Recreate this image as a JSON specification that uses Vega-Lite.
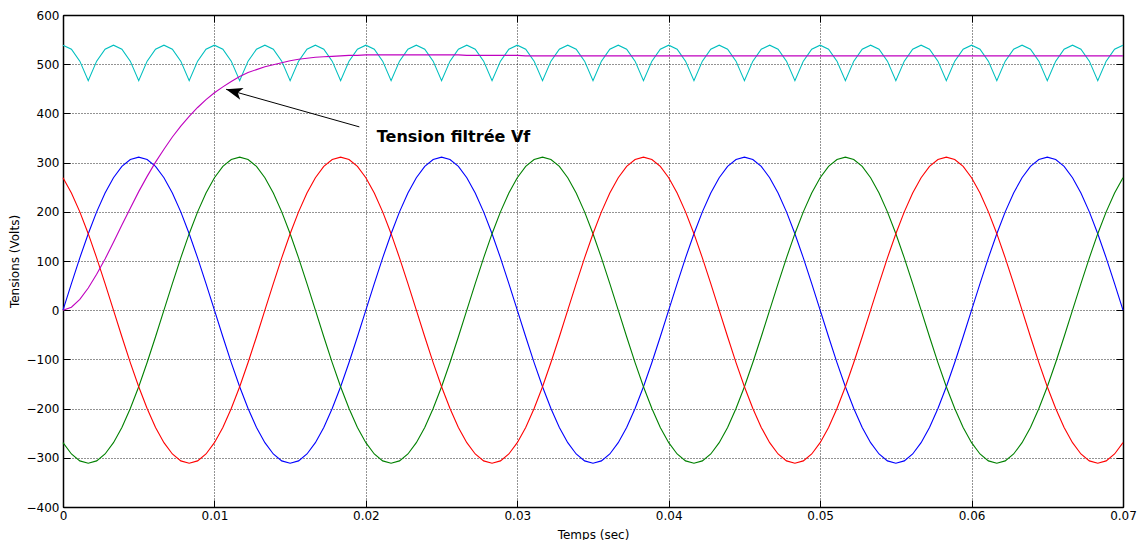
{
"$schema": "https://vega.github.io/schema/vega-lite/v6.json",
"width": 1060, "height": 492,
"autosize": {"type": "none"},
"padding": {"left": 63, "top": 15, "right": 15, "bottom": 33},
"background": "white",
"config": {
 "view": {"stroke": "#000", "strokeWidth": 1},
 "axis": {"labelFont": "DejaVu Sans", "labelFontSize": 12, "labelColor": "#000", "titleFont": "DejaVu Sans", "titleFontSize": 12, "titleFontWeight": "normal", "titleColor": "#000", "domainColor": "#000", "domainWidth": 1.5, "tickColor": "#000", "gridColor": "#000", "gridDash": [1, 2], "gridOpacity": 0.85, "gridWidth": 1}
},
"datasets": {
 "w": [
{"t":0,"a":0,"b":-269.3,"c":269.3,"r":538.7,"f":0},
{"t":0.000556,"a":54,"b":-292.2,"c":238.2,"r":530.5,"f":6},
{"t":0.001111,"a":106.4,"b":-306.3,"c":199.9,"r":506.2,"f":22},
{"t":0.001667,"a":155.5,"b":-311,"c":155.5,"r":466.5,"f":45},
{"t":0.002222,"a":199.9,"b":-306.3,"c":106.4,"r":506.2,"f":73},
{"t":0.002778,"a":238.2,"b":-292.2,"c":54,"r":530.5,"f":104},
{"t":0.003333,"a":269.3,"b":-269.3,"c":0,"r":538.7,"f":138},
{"t":0.003889,"a":292.2,"b":-238.2,"c":-54,"r":530.5,"f":173},
{"t":0.004444,"a":306.3,"b":-199.9,"c":-106.4,"r":506.2,"f":207},
{"t":0.005,"a":311,"b":-155.5,"c":-155.5,"r":466.5,"f":241},
{"t":0.005556,"a":306.3,"b":-106.4,"c":-199.9,"r":506.2,"f":272},
{"t":0.006111,"a":292.2,"b":-54,"c":-238.2,"r":530.5,"f":301},
{"t":0.006667,"a":269.3,"b":0,"c":-269.3,"r":538.7,"f":327},
{"t":0.007222,"a":238.2,"b":54,"c":-292.2,"r":530.5,"f":352},
{"t":0.007778,"a":199.9,"b":106.4,"c":-306.3,"r":506.2,"f":374},
{"t":0.008333,"a":155.5,"b":155.5,"c":-311,"r":466.5,"f":394},
{"t":0.008889,"a":106.4,"b":199.9,"c":-306.3,"r":506.2,"f":412},
{"t":0.009444,"a":54,"b":238.2,"c":-292.2,"r":530.5,"f":428},
{"t":0.01,"a":0,"b":269.3,"c":-269.3,"r":538.7,"f":442},
{"t":0.010556,"a":-54,"b":292.2,"c":-238.2,"r":530.5,"f":454},
{"t":0.011111,"a":-106.4,"b":306.3,"c":-199.9,"r":506.2,"f":465},
{"t":0.011667,"a":-155.5,"b":311,"c":-155.5,"r":466.5,"f":475},
{"t":0.012222,"a":-199.9,"b":306.3,"c":-106.4,"r":506.2,"f":483},
{"t":0.012778,"a":-238.2,"b":292.2,"c":-54,"r":530.5,"f":489},
{"t":0.013333,"a":-269.3,"b":269.3,"c":0,"r":538.7,"f":495},
{"t":0.013889,"a":-292.2,"b":238.2,"c":54,"r":530.5,"f":499},
{"t":0.014444,"a":-306.3,"b":199.9,"c":106.4,"r":506.2,"f":503},
{"t":0.015,"a":-311,"b":155.5,"c":155.5,"r":466.5,"f":507},
{"t":0.015556,"a":-306.3,"b":106.4,"c":199.9,"r":506.2,"f":510},
{"t":0.016111,"a":-292.2,"b":54,"c":238.2,"r":530.5,"f":512},
{"t":0.016667,"a":-269.3,"b":0,"c":269.3,"r":538.7,"f":514},
{"t":0.017222,"a":-238.2,"b":-54,"c":292.2,"r":530.5,"f":515},
{"t":0.017778,"a":-199.9,"b":-106.4,"c":306.3,"r":506.2,"f":516},
{"t":0.018333,"a":-155.5,"b":-155.5,"c":311,"r":466.5,"f":517},
{"t":0.018889,"a":-106.4,"b":-199.9,"c":306.3,"r":506.2,"f":518},
{"t":0.019444,"a":-54,"b":-238.2,"c":292.2,"r":530.5,"f":518},
{"t":0.02,"a":0,"b":-269.3,"c":269.3,"r":538.7,"f":519},
{"t":0.020556,"a":54,"b":-292.2,"c":238.2,"r":530.5,"f":519},
{"t":0.021111,"a":106.4,"b":-306.3,"c":199.9,"r":506.2,"f":519},
{"t":0.021667,"a":155.5,"b":-311,"c":155.5,"r":466.5,"f":519},
{"t":0.022222,"a":199.9,"b":-306.3,"c":106.4,"r":506.2,"f":519},
{"t":0.022778,"a":238.2,"b":-292.2,"c":54,"r":530.5,"f":519},
{"t":0.023333,"a":269.3,"b":-269.3,"c":0,"r":538.7,"f":519},
{"t":0.023889,"a":292.2,"b":-238.2,"c":-54,"r":530.5,"f":519},
{"t":0.024444,"a":306.3,"b":-199.9,"c":-106.4,"r":506.2,"f":519},
{"t":0.025,"a":311,"b":-155.5,"c":-155.5,"r":466.5,"f":519},
{"t":0.025556,"a":306.3,"b":-106.4,"c":-199.9,"r":506.2,"f":519},
{"t":0.026111,"a":292.2,"b":-54,"c":-238.2,"r":530.5,"f":519},
{"t":0.026667,"a":269.3,"b":0,"c":-269.3,"r":538.7,"f":518},
{"t":0.027222,"a":238.2,"b":54,"c":-292.2,"r":530.5,"f":518},
{"t":0.027778,"a":199.9,"b":106.4,"c":-306.3,"r":506.2,"f":518},
{"t":0.028333,"a":155.5,"b":155.5,"c":-311,"r":466.5,"f":518},
{"t":0.028889,"a":106.4,"b":199.9,"c":-306.3,"r":506.2,"f":518},
{"t":0.029444,"a":54,"b":238.2,"c":-292.2,"r":530.5,"f":518},
{"t":0.03,"a":0,"b":269.3,"c":-269.3,"r":538.7,"f":518},
{"t":0.030556,"a":-54,"b":292.2,"c":-238.2,"r":530.5,"f":517},
{"t":0.031111,"a":-106.4,"b":306.3,"c":-199.9,"r":506.2,"f":517},
{"t":0.031667,"a":-155.5,"b":311,"c":-155.5,"r":466.5,"f":517},
{"t":0.032222,"a":-199.9,"b":306.3,"c":-106.4,"r":506.2,"f":517},
{"t":0.032778,"a":-238.2,"b":292.2,"c":-54,"r":530.5,"f":517},
{"t":0.033333,"a":-269.3,"b":269.3,"c":0,"r":538.7,"f":517},
{"t":0.033889,"a":-292.2,"b":238.2,"c":54,"r":530.5,"f":517},
{"t":0.034444,"a":-306.3,"b":199.9,"c":106.4,"r":506.2,"f":517},
{"t":0.035,"a":-311,"b":155.5,"c":155.5,"r":466.5,"f":517},
{"t":0.035556,"a":-306.3,"b":106.4,"c":199.9,"r":506.2,"f":517},
{"t":0.036111,"a":-292.2,"b":54,"c":238.2,"r":530.5,"f":517},
{"t":0.036667,"a":-269.3,"b":0,"c":269.3,"r":538.7,"f":517},
{"t":0.037222,"a":-238.2,"b":-54,"c":292.2,"r":530.5,"f":517},
{"t":0.037778,"a":-199.9,"b":-106.4,"c":306.3,"r":506.2,"f":517},
{"t":0.038333,"a":-155.5,"b":-155.5,"c":311,"r":466.5,"f":517},
{"t":0.038889,"a":-106.4,"b":-199.9,"c":306.3,"r":506.2,"f":517},
{"t":0.039444,"a":-54,"b":-238.2,"c":292.2,"r":530.5,"f":517},
{"t":0.04,"a":0,"b":-269.3,"c":269.3,"r":538.7,"f":517},
{"t":0.040556,"a":54,"b":-292.2,"c":238.2,"r":530.5,"f":517},
{"t":0.041111,"a":106.4,"b":-306.3,"c":199.9,"r":506.2,"f":517},
{"t":0.041667,"a":155.5,"b":-311,"c":155.5,"r":466.5,"f":517},
{"t":0.042222,"a":199.9,"b":-306.3,"c":106.4,"r":506.2,"f":517},
{"t":0.042778,"a":238.2,"b":-292.2,"c":54,"r":530.5,"f":517},
{"t":0.043333,"a":269.3,"b":-269.3,"c":0,"r":538.7,"f":517},
{"t":0.043889,"a":292.2,"b":-238.2,"c":-54,"r":530.5,"f":517},
{"t":0.044444,"a":306.3,"b":-199.9,"c":-106.4,"r":506.2,"f":517},
{"t":0.045,"a":311,"b":-155.5,"c":-155.5,"r":466.5,"f":517},
{"t":0.045556,"a":306.3,"b":-106.4,"c":-199.9,"r":506.2,"f":517},
{"t":0.046111,"a":292.2,"b":-54,"c":-238.2,"r":530.5,"f":517},
{"t":0.046667,"a":269.3,"b":0,"c":-269.3,"r":538.7,"f":517},
{"t":0.047222,"a":238.2,"b":54,"c":-292.2,"r":530.5,"f":517},
{"t":0.047778,"a":199.9,"b":106.4,"c":-306.3,"r":506.2,"f":517},
{"t":0.048333,"a":155.5,"b":155.5,"c":-311,"r":466.5,"f":517},
{"t":0.048889,"a":106.4,"b":199.9,"c":-306.3,"r":506.2,"f":517},
{"t":0.049444,"a":54,"b":238.2,"c":-292.2,"r":530.5,"f":517},
{"t":0.05,"a":0,"b":269.3,"c":-269.3,"r":538.7,"f":517},
{"t":0.050556,"a":-54,"b":292.2,"c":-238.2,"r":530.5,"f":517},
{"t":0.051111,"a":-106.4,"b":306.3,"c":-199.9,"r":506.2,"f":517},
{"t":0.051667,"a":-155.5,"b":311,"c":-155.5,"r":466.5,"f":517},
{"t":0.052222,"a":-199.9,"b":306.3,"c":-106.4,"r":506.2,"f":517},
{"t":0.052778,"a":-238.2,"b":292.2,"c":-54,"r":530.5,"f":517},
{"t":0.053333,"a":-269.3,"b":269.3,"c":0,"r":538.7,"f":517},
{"t":0.053889,"a":-292.2,"b":238.2,"c":54,"r":530.5,"f":517},
{"t":0.054444,"a":-306.3,"b":199.9,"c":106.4,"r":506.2,"f":517},
{"t":0.055,"a":-311,"b":155.5,"c":155.5,"r":466.5,"f":517},
{"t":0.055556,"a":-306.3,"b":106.4,"c":199.9,"r":506.2,"f":517},
{"t":0.056111,"a":-292.2,"b":54,"c":238.2,"r":530.5,"f":517},
{"t":0.056667,"a":-269.3,"b":0,"c":269.3,"r":538.7,"f":517},
{"t":0.057222,"a":-238.2,"b":-54,"c":292.2,"r":530.5,"f":517},
{"t":0.057778,"a":-199.9,"b":-106.4,"c":306.3,"r":506.2,"f":517},
{"t":0.058333,"a":-155.5,"b":-155.5,"c":311,"r":466.5,"f":517},
{"t":0.058889,"a":-106.4,"b":-199.9,"c":306.3,"r":506.2,"f":517},
{"t":0.059444,"a":-54,"b":-238.2,"c":292.2,"r":530.5,"f":517},
{"t":0.06,"a":0,"b":-269.3,"c":269.3,"r":538.7,"f":517},
{"t":0.060556,"a":54,"b":-292.2,"c":238.2,"r":530.5,"f":517},
{"t":0.061111,"a":106.4,"b":-306.3,"c":199.9,"r":506.2,"f":517},
{"t":0.061667,"a":155.5,"b":-311,"c":155.5,"r":466.5,"f":517},
{"t":0.062222,"a":199.9,"b":-306.3,"c":106.4,"r":506.2,"f":517},
{"t":0.062778,"a":238.2,"b":-292.2,"c":54,"r":530.5,"f":517},
{"t":0.063333,"a":269.3,"b":-269.3,"c":0,"r":538.7,"f":517},
{"t":0.063889,"a":292.2,"b":-238.2,"c":-54,"r":530.5,"f":517},
{"t":0.064444,"a":306.3,"b":-199.9,"c":-106.4,"r":506.2,"f":517},
{"t":0.065,"a":311,"b":-155.5,"c":-155.5,"r":466.5,"f":517},
{"t":0.065556,"a":306.3,"b":-106.4,"c":-199.9,"r":506.2,"f":517},
{"t":0.066111,"a":292.2,"b":-54,"c":-238.2,"r":530.5,"f":517},
{"t":0.066667,"a":269.3,"b":0,"c":-269.3,"r":538.7,"f":517},
{"t":0.067222,"a":238.2,"b":54,"c":-292.2,"r":530.5,"f":517},
{"t":0.067778,"a":199.9,"b":106.4,"c":-306.3,"r":506.2,"f":517},
{"t":0.068333,"a":155.5,"b":155.5,"c":-311,"r":466.5,"f":517},
{"t":0.068889,"a":106.4,"b":199.9,"c":-306.3,"r":506.2,"f":517},
{"t":0.069444,"a":54,"b":238.2,"c":-292.2,"r":530.5,"f":517},
{"t":0.07,"a":0,"b":269.3,"c":-269.3,"r":538.7,"f":517}
 ],
 "ann": [
  {"t": 0.01957, "v": 372.6, "t2": 0.01077, "v2": 449, "lx": 0.02072, "ly": 342, "label": "Tension filtrée Vf"}
 ]
},
"data": {"name": "w"},
"resolve": {"axis": {"x": "independent", "y": "independent"}},
"layer": [
 {
  "mark": {"type": "line", "color": "#0000ff", "strokeWidth": 1.1},
  "encoding": {
   "x": {"field": "t", "type": "quantitative", "scale": {"domain": [0, 0.07], "nice": false, "zero": false},
    "axis": {"orient": "bottom", "values": [0, 0.01, 0.02, 0.03, 0.04, 0.05, 0.06, 0.07], "format": ".2~f", "title": "Temps (sec)", "grid": true, "tickSize": -7, "labelPadding": 10, "labelFlush": false, "titleY": 31, "titleBaseline": "alphabetic"}},
   "y": {"field": "a", "type": "quantitative", "scale": {"domain": [-400, 600], "nice": false, "zero": false},
    "axis": {"orient": "left", "values": [-400, -300, -200, -100, 0, 100, 200, 300, 400, 500, 600], "title": "Tensions (Volts)", "grid": true, "tickSize": -7, "labelPadding": 11, "labelFlush": false, "titleX": -49, "titleBaseline": "middle"}}
  }
 },
 {
  "mark": {"type": "line", "color": "#008000", "strokeWidth": 1.1},
  "encoding": {
   "x": {"field": "t", "type": "quantitative",
    "axis": {"orient": "top", "values": [0, 0.01, 0.02, 0.03, 0.04, 0.05, 0.06, 0.07], "labels": false, "title": null, "grid": false, "tickSize": -7}},
   "y": {"field": "b", "type": "quantitative",
    "axis": {"orient": "right", "values": [-400, -300, -200, -100, 0, 100, 200, 300, 400, 500, 600], "labels": false, "title": null, "grid": false, "tickSize": -7}}
  }
 },
 {
  "mark": {"type": "line", "color": "#ff0000", "strokeWidth": 1.1},
  "encoding": {
   "x": {"field": "t", "type": "quantitative", "axis": null},
   "y": {"field": "c", "type": "quantitative", "axis": null}
  }
 },
 {
  "mark": {"type": "line", "color": "#00bfbf", "strokeWidth": 1.1},
  "encoding": {
   "x": {"field": "t", "type": "quantitative", "axis": null},
   "y": {"field": "r", "type": "quantitative", "axis": null}
  }
 },
 {
  "mark": {"type": "line", "color": "#bf00bf", "strokeWidth": 1.1},
  "encoding": {
   "x": {"field": "t", "type": "quantitative", "axis": null},
   "y": {"field": "f", "type": "quantitative", "axis": null}
  }
 },
 {
  "data": {"name": "ann"},
  "mark": {"type": "rule", "color": "#000", "strokeWidth": 1},
  "encoding": {
   "x": {"field": "t", "type": "quantitative", "axis": null},
   "y": {"field": "v", "type": "quantitative", "axis": null},
   "x2": {"field": "t2"},
   "y2": {"field": "v2"}
  }
 },
 {
  "data": {"name": "ann"},
  "mark": {"type": "point", "shape": "M0,0L-0.7,1.9L0,1.4L0.7,1.9Z", "filled": true, "color": "#000", "opacity": 1, "size": 300, "angle": -74},
  "encoding": {
   "x": {"field": "t2", "type": "quantitative", "axis": null},
   "y": {"field": "v2", "type": "quantitative", "axis": null}
  }
 },
 {
  "data": {"name": "ann"},
  "mark": {"type": "text", "font": "DejaVu Sans", "fontWeight": "bold", "fontSize": 16, "align": "left", "baseline": "alphabetic", "color": "#000"},
  "encoding": {
   "x": {"field": "lx", "type": "quantitative", "axis": null},
   "y": {"field": "ly", "type": "quantitative", "axis": null},
   "text": {"field": "label"}
  }
 }
]
}
